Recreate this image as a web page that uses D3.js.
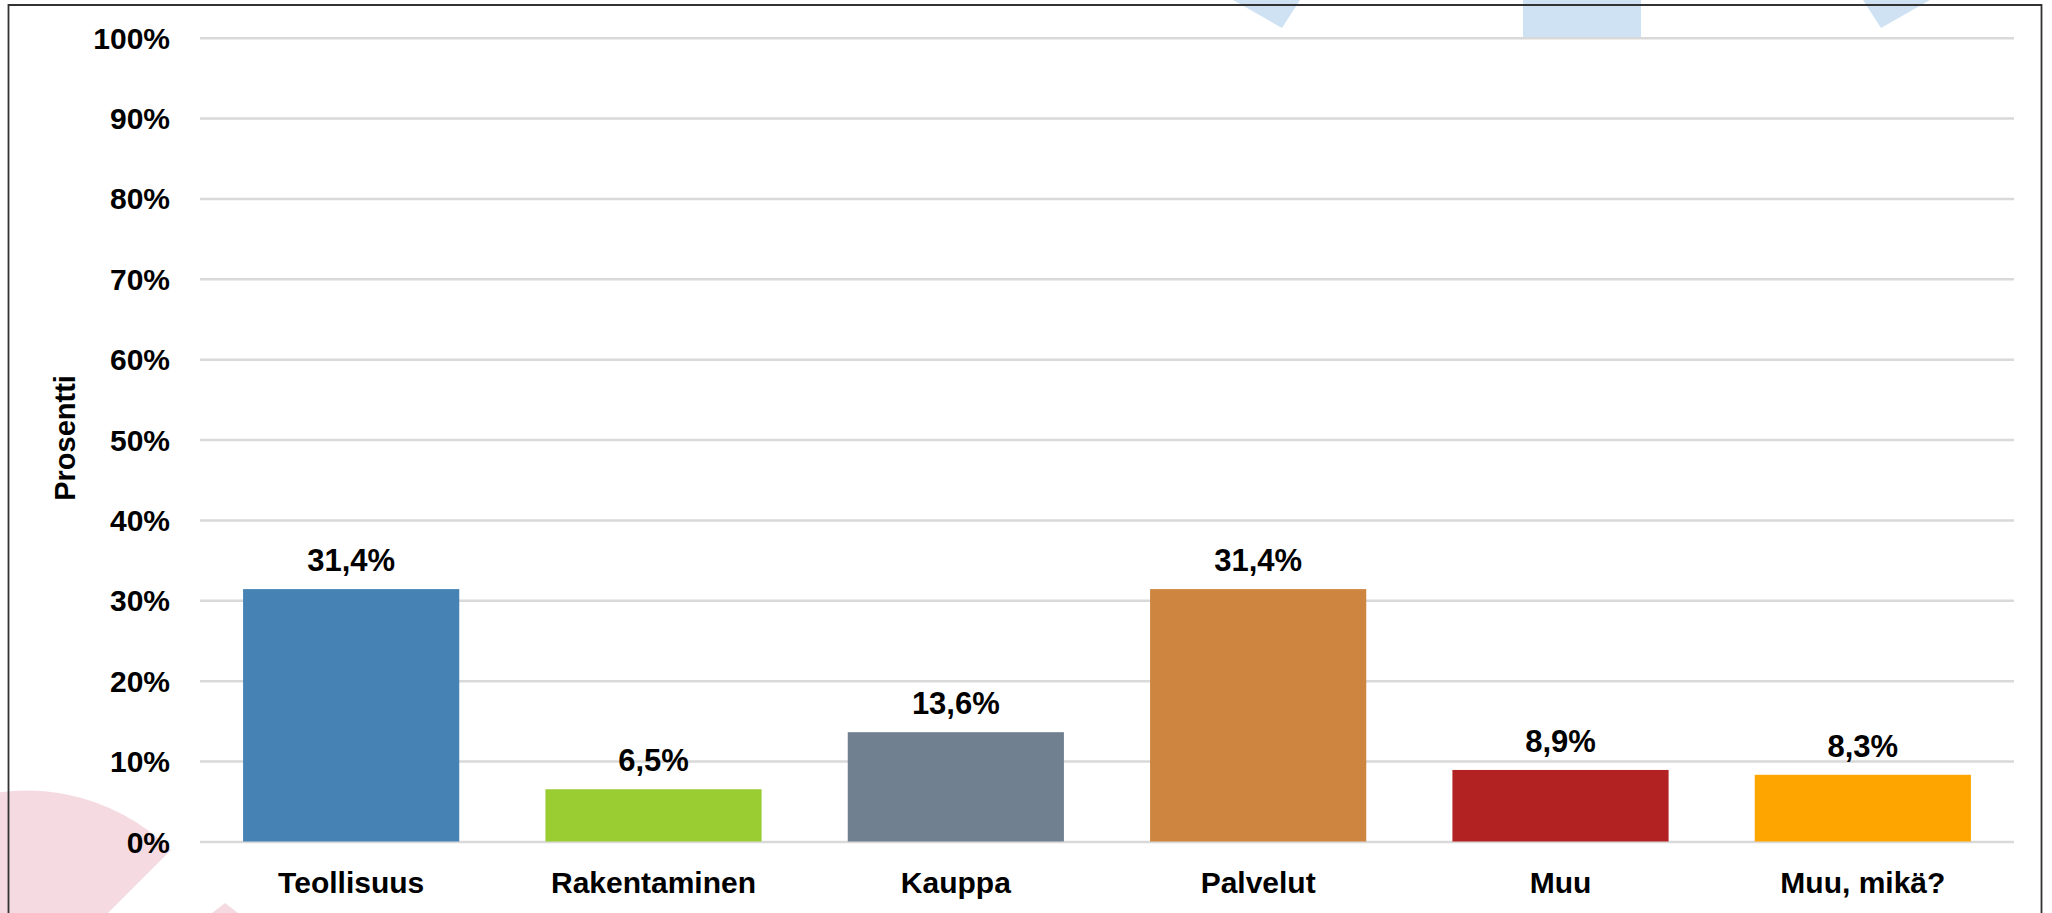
<!DOCTYPE html>
<html>
<head>
<meta charset="utf-8">
<script src="https://cdn.jsdelivr.net/npm/d3@7"></script>
<style>
  body { margin: 0; background: #fff; }
  svg text { font-family: "Liberation Sans", Arial, sans-serif; font-weight: bold; fill: #000; }
</style>
</head>
<body>
<svg id="chart"></svg>
<script>
// data
const categories = ["Teollisuus", "Rakentaminen", "Kauppa", "Palvelut", "Muu", "Muu, mikä?"];
const values = [31.4, 6.5, 13.6, 31.4, 8.9, 8.3];
const barColors = ["#4682b4", "#9acd32", "#708090", "#cd853f", "#b22222", "#ffa500"];
const tickValues = [0, 10, 20, 30, 40, 50, 60, 70, 80, 90, 100];
const yTitle = "Prosentti";

const width = 2052, height = 913;
const plot = { left: 200, right: 2014, top: 37.7, bottom: 841.5 };

const svg = d3.select("#chart")
  .attr("width", width)
  .attr("height", height);

// slide decorations showing behind the chart
const deco = svg.append("g");
deco.append("path")
  .attr("d", "M27,994 L171,850 A204,204 0 0 0 -177,994 Z")
  .attr("fill", "#f5dbe1");
deco.append("path")
  .attr("d", "M212,913 L225,903 L238,913 Z")
  .attr("fill", "#f5dbe1");
deco.append("path")
  .attr("d", "M1233,0 L1282,28 L1300,0 Z")
  .attr("fill", "#cfe2f3");
deco.append("path")
  .attr("d", "M1863,0 L1881,28 L1930,0 Z")
  .attr("fill", "#cfe2f3");
deco.append("rect")
  .attr("x", 1523).attr("y", 0)
  .attr("width", 118).attr("height", 37)
  .attr("fill", "#cfe2f3");

// frame
svg.append("path")
  .attr("d", `M8.5,${height} L8.5,5 L2041.5,5 L2041.5,${height}`)
  .attr("fill", "none")
  .attr("stroke", "#333")
  .attr("stroke-width", 1.8);

// scales
const x = d3.scaleBand()
  .domain(categories)
  .range([plot.left, plot.right])
  .paddingInner(0.285)
  .paddingOuter(0.1425);

const y = d3.scaleLinear()
  .domain([0, 100])
  .range([plot.bottom, plot.top]);

// gridlines + y labels
const yAxis = d3.axisLeft(y)
  .tickValues(tickValues)
  .tickSize(-(plot.right - plot.left))
  .tickPadding(30)
  .tickFormat(d => d + "%");

const gy = svg.append("g")
  .attr("transform", `translate(${plot.left},0)`)
  .call(yAxis);
gy.select(".domain").remove();
gy.selectAll(".tick line")
  .attr("stroke", "#d9d9d9")
  .attr("stroke-width", 2.5);
gy.selectAll(".tick text")
  .attr("font-size", 30)
  .attr("dy", "0.35em")
  .style("font-family", "'Liberation Sans', Arial, sans-serif");

// bars
const data = categories.map((c, i) => ({ cat: c, value: values[i], color: barColors[i] }));

svg.selectAll("rect.bar")
  .data(data)
  .enter()
  .append("rect")
    .attr("class", "bar")
    .attr("x", d => x(d.cat))
    .attr("y", d => y(d.value))
    .attr("width", x.bandwidth())
    .attr("height", d => y(0) - y(d.value))
    .attr("fill", d => d.color);

// value labels
svg.selectAll("text.value")
  .data(data)
  .enter()
  .append("text")
    .attr("class", "value")
    .attr("x", d => x(d.cat) + x.bandwidth() / 2)
    .attr("y", d => y(d.value) - 18)
    .attr("text-anchor", "middle")
    .attr("font-size", 31)
    .text(d => d.value.toFixed(1).replace(".", ",") + "%");

// x axis labels
const xAxis = d3.axisBottom(x).tickSize(0).tickPadding(30);
const gx = svg.append("g")
  .attr("transform", `translate(0,${plot.bottom})`)
  .call(xAxis);
gx.select(".domain").remove();
gx.selectAll(".tick text")
  .attr("font-size", 30)
  .attr("dy", "0.71em")
  .style("font-family", "'Liberation Sans', Arial, sans-serif");

// y title
svg.append("text")
  .attr("transform", "translate(75,438) rotate(-90)")
  .attr("text-anchor", "middle")
  .attr("font-size", 29)
  .text(yTitle);
</script>
</body>
</html>
